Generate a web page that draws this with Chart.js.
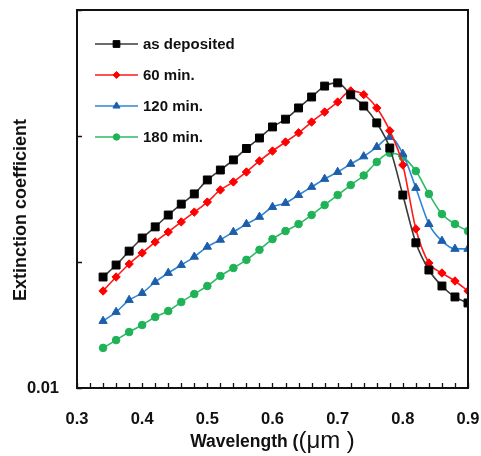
<!DOCTYPE html>
<html>
<head>
<meta charset="utf-8">
<script src="https://cdn.jsdelivr.net/npm/chart.js@4.4.1/dist/chart.umd.min.js"></script>
<style>
html,body{margin:0;padding:0;background:#fff;}
#wrap{width:481px;height:456px;}
</style>
</head>
<body>
<div id="wrap"><canvas id="c" width="481" height="456"></canvas></div>
<script>
const wavelengths = [0.34,0.36,0.38,0.40,0.42,0.44,0.46,0.48,0.50,0.52,0.54,0.56,0.58,0.60,0.62,0.64,0.66,0.68,0.70,0.72,0.74,0.76,0.78,0.80,0.82,0.84,0.86,0.88,0.90];
const asDeposited = [0.0760,0.0946,0.122,0.155,0.190,0.236,0.288,0.347,0.448,0.537,0.646,0.796,0.964,1.18,1.36,1.67,2.04,2.49,2.64,2.12,1.73,1.27,0.803,0.340,0.142,0.0864,0.0645,0.0528,0.0473];
const min60 = [0.0589,0.0760,0.0964,0.118,0.144,0.173,0.208,0.249,0.299,0.373,0.432,0.518,0.634,0.760,0.896,1.06,1.29,1.55,1.86,2.28,2.13,1.67,1.10,0.589,0.183,0.0982,0.0818,0.0707,0.0589];
const min120 = [0.0340,0.0401,0.0499,0.0567,0.0694,0.0818,0.0946,0.110,0.132,0.150,0.173,0.200,0.228,0.273,0.294,0.340,0.394,0.456,0.518,0.600,0.688,0.818,0.982,0.720,0.387,0.200,0.147,0.127,0.127];
const min180 = [0.0208,0.0240,0.0278,0.0316,0.0366,0.0408,0.0481,0.0557,0.0645,0.0774,0.0896,0.104,0.125,0.152,0.176,0.200,0.236,0.283,0.340,0.408,0.486,0.622,0.733,0.681,0.527,0.347,0.240,0.200,0.176];
const seriesLabels = ['as deposited','60 min.','120 min.','180 min.'];
const xTickValues = [0.3,0.4,0.5,0.6,0.7,0.8,0.9];
const xTickLabels = ['0.3','0.4','0.5','0.6','0.7','0.8','0.9'];
const xMinorTickValues = [0.30,0.32,0.34,0.36,0.38,0.40,0.42,0.44,0.46,0.48,0.50,0.52,0.54,0.56,0.58,0.60,0.62,0.64,0.66,0.68,0.70,0.72,0.74,0.76,0.78,0.80,0.82,0.84,0.86,0.88,0.90];
const yTickValues = [0.01,0.1,1,10];
const yTickLabels = ['0.01','','',''];
const yTitle = 'Extinction coefficient';
const xTitleParts = ['Wavelength (', '(\u03BCm )'];

const FONT = '"Liberation Sans", Arial, sans-serif';
const styles = [
  {line:'#3a3a3a', fill:'#000000', stroke:'#000000', shape:'rect', r:5.6},
  {line:'#ff1a1a', fill:'#ff0000', stroke:'#ff0000', shape:'rectRot', r:4.2},
  {line:'#2f86d6', fill:'#1d5eaa', stroke:'#1d5eaa', shape:'triangle', r:4.8},
  {line:'#2dbb62', fill:'#1fb257', stroke:'#1fb257', shape:'circle', r:3.8}
];
const seriesValues = [asDeposited, min60, min120, min180];

const datasets = seriesValues.map((vals, i) => ({
  label: seriesLabels[i],
  data: wavelengths.map((w, j) => ({x: w, y: vals[j]})),
  borderColor: styles[i].line,
  backgroundColor: styles[i].fill,
  pointBorderColor: styles[i].stroke,
  pointBackgroundColor: styles[i].fill,
  pointStyle: styles[i].shape,
  pointRadius: styles[i].r,
  pointBorderWidth: 1,
  borderWidth: 1.6,
  cubicInterpolationMode: 'monotone',
  fill: false
}));

const decorPlugin = {
  id: 'decor',
  afterDraw(chart) {
    const ctx = chart.ctx, a = chart.chartArea, xs = chart.scales.x, ys = chart.scales.y;
    ctx.save();
    // frame
    ctx.strokeStyle = '#111';
    ctx.lineWidth = 2;
    ctx.strokeRect(a.left, a.top, a.right - a.left, a.bottom - a.top);
    // inward ticks
    ctx.lineWidth = 1.3;
    ctx.beginPath();
    xMinorTickValues.forEach(v => {
      const px = Math.round(xs.getPixelForValue(v)) + 0.5;
      ctx.moveTo(px, a.bottom); ctx.lineTo(px, a.bottom - 5);
    });
    yTickValues.forEach(v => {
      const py = Math.round(ys.getPixelForValue(v)) + 0.5;
      ctx.moveTo(a.left, py); ctx.lineTo(a.left + 5, py);
    });
    ctx.stroke();
    // legend inside plot
    const x0 = a.left + 18, x1 = a.left + 61, tx = a.left + 66;
    chart.data.datasets.forEach((ds, i) => {
      const y = a.top + 34 + i * 31;
      ctx.strokeStyle = ds.borderColor;
      ctx.lineWidth = 1.6;
      ctx.beginPath(); ctx.moveTo(x0, y); ctx.lineTo(x1, y); ctx.stroke();
      ctx.fillStyle = ds.pointBackgroundColor;
      ctx.strokeStyle = ds.pointBorderColor;
      ctx.lineWidth = 1;
      Chart.helpers.drawPoint(ctx, {pointStyle: ds.pointStyle, radius: ds.pointRadius * 0.85, rotation: 0, borderWidth: 1}, (x0 + x1) / 2, y);
      ctx.fillStyle = '#111';
      ctx.font = 'bold 15px ' + FONT;
      ctx.textBaseline = 'middle';
      ctx.textAlign = 'left';
      ctx.fillText(ds.label, tx, y + 1);
    });
    // x title (mixed fonts)
    const f1 = 'bold 17.5px ' + FONT;
    const f2 = '24px ' + FONT;
    ctx.font = f1; const w1 = ctx.measureText(xTitleParts[0]).width;
    ctx.font = f2; const w2 = ctx.measureText(xTitleParts[1]).width;
    const cx = (a.left + a.right) / 2;
    const sx = cx - (w1 + w2) / 2;
    ctx.fillStyle = '#111';
    ctx.textBaseline = 'alphabetic';
    ctx.textAlign = 'left';
    ctx.font = f1; ctx.fillText(xTitleParts[0], sx, 447);
    ctx.font = f2; ctx.fillText(xTitleParts[1], sx + w1, 448);
    // y title
    ctx.translate(21, (a.top + a.bottom) / 2 + 11);
    ctx.rotate(-Math.PI / 2);
    ctx.font = 'bold 18px ' + FONT;
    ctx.textAlign = 'center';
    ctx.textBaseline = 'middle';
    ctx.fillText(yTitle, 0, 0);
    ctx.restore();
  }
};

new Chart(document.getElementById('c'), {
  type: 'line',
  data: { datasets },
  options: {
    responsive: false,
    animation: false,
    devicePixelRatio: 1,
    layout: { padding: { left: 0, right: 13, top: 10, bottom: 0 } },
    plugins: { legend: { display: false }, tooltip: { enabled: false } },
    scales: {
      x: {
        type: 'linear',
        min: 0.3, max: 0.9,
        afterBuildTicks: s => { s.ticks = xTickValues.map(v => ({value: v})); },
        afterFit: s => { s.height = 68; s.paddingLeft = 0; s.paddingRight = 0; },
        ticks: {
          autoSkip: false,
          maxRotation: 0,
          padding: 22,
          color: '#111',
          font: { family: FONT, size: 16.5, weight: 'bold' },
          callback: (v, i) => xTickLabels[i]
        },
        grid: { display: false, drawTicks: false },
        border: { display: false }
      },
      y: {
        type: 'logarithmic',
        min: 0.01, max: 10,
        afterBuildTicks: s => { s.ticks = yTickValues.map(v => ({value: v})); },
        afterFit: s => { s.width = 77; s.paddingTop = 0; s.paddingBottom = 0; },
        ticks: {
          autoSkip: false,
          padding: 18,
          color: '#111',
          font: { family: FONT, size: 16.5, weight: 'bold' },
          callback: (v, i) => yTickLabels[i]
        },
        grid: { display: false, drawTicks: false },
        border: { display: false },
        title: { display: false, text: yTitle }
      }
    }
  },
  plugins: [decorPlugin]
});
</script>
</body>
</html>
